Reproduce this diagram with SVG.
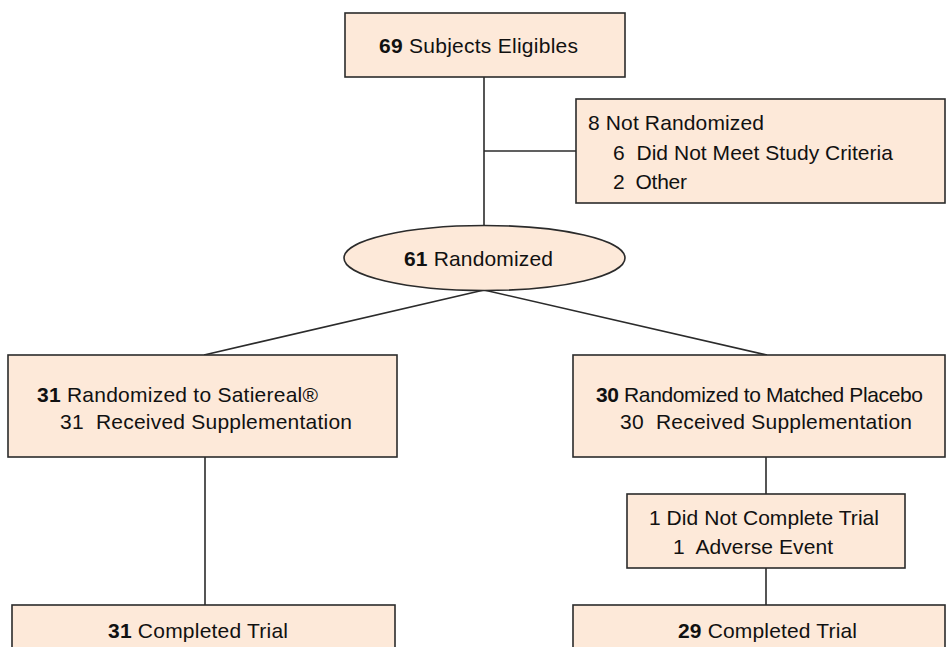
<svg xmlns="http://www.w3.org/2000/svg" width="947" height="647" viewBox="0 0 947 647">
<style>
.box{fill:#fde9d9;stroke:#2b2b2b;stroke-width:1.6}
.t{font-family:"Liberation Sans",Arial,sans-serif;font-size:21px;fill:#111}
.b{font-weight:bold}
.c{stroke:#2b2b2b;stroke-width:1.6;fill:none}
</style>
<rect width="947" height="647" fill="#fff"/>
<g id="connectors">
<line class="c" x1="484" y1="77" x2="484" y2="226"/>
<line class="c" x1="484" y1="151" x2="576" y2="151"/>
<line class="c" x1="484" y1="290" x2="204" y2="355"/>
<line class="c" x1="484" y1="290" x2="767" y2="355"/>
<line class="c" x1="205" y1="457" x2="205" y2="605"/>
<line class="c" x1="766" y1="457" x2="766" y2="494"/>
<line class="c" x1="766" y1="568" x2="766" y2="605"/>
</g>
<g id="eligible">
<rect class="box" x="345" y="13" width="280" height="64"/>
<text class="t" x="379" y="53" textLength="199"><tspan class="b">69</tspan> Subjects Eligibles</text>
</g>
<g id="notrandomized">
<rect class="box" x="576" y="99" width="369" height="104"/>
<text class="t" x="588" y="130" textLength="176">8 Not Randomized</text>
<text class="t" x="613" y="160" textLength="280" xml:space="preserve">6  Did Not Meet Study Criteria</text>
<text class="t" x="613" y="189" textLength="74" xml:space="preserve">2  Other</text>
</g>
<g id="randomized">
<ellipse class="box" cx="484.5" cy="258" rx="140.5" ry="32.5"/>
<text class="t" x="404" y="266" textLength="149"><tspan class="b">61</tspan> Randomized</text>
</g>
<g id="satiereal">
<rect class="box" x="8" y="355" width="389" height="102"/>
<text class="t" x="37" y="402" textLength="281"><tspan class="b">31</tspan> Randomized to Satiereal®</text>
<text class="t" x="60" y="429" textLength="292" xml:space="preserve">31  Received Supplementation</text>
</g>
<g id="placebo">
<rect class="box" x="573" y="355" width="372" height="102"/>
<text class="t" x="596" y="402" textLength="327"><tspan class="b">30</tspan> Randomized to Matched Placebo</text>
<text class="t" x="620" y="429" textLength="292" xml:space="preserve">30  Received Supplementation</text>
</g>
<g id="notcomplete">
<rect class="box" x="627" y="494" width="278" height="74"/>
<text class="t" x="649" y="525" textLength="230">1 Did Not Complete Trial</text>
<text class="t" x="673" y="554" textLength="160" xml:space="preserve">1  Adverse Event</text>
</g>
<g id="completed1">
<rect class="box" x="12" y="605" width="383" height="60"/>
<text class="t" x="108" y="638" textLength="180"><tspan class="b">31</tspan> Completed Trial</text>
</g>
<g id="completed2">
<rect class="box" x="573" y="605" width="372" height="60"/>
<text class="t" x="678" y="638" textLength="179"><tspan class="b">29</tspan> Completed Trial</text>
</g>
</svg>
